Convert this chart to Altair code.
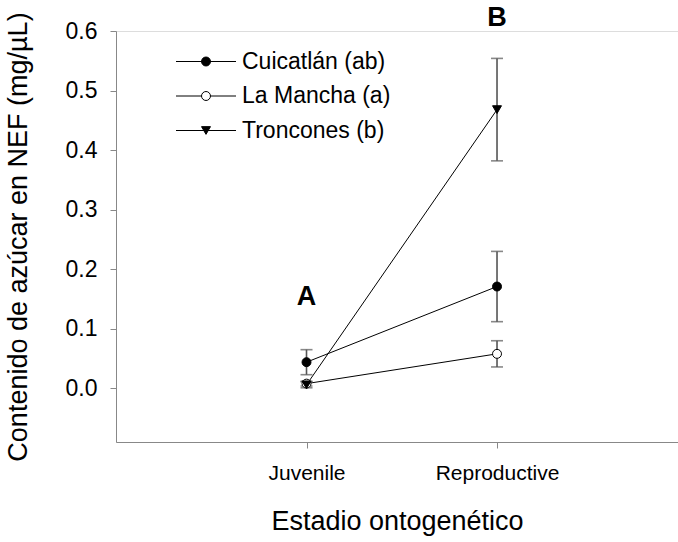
import json
import altair as alt
import pandas as pd

# ---- data ----
stages = ["Juvenile", "Reproductive"]
series = ["Cuicatlán (ab)", "La Mancha (a)", "Troncones (b)"]
cuicatlan_mean = [0.044, 0.171]
cuicatlan_err = [0.021, 0.059]
la_mancha_mean = [0.008, 0.058]
la_mancha_err = [0.004, 0.022]
troncones_mean = [0.006, 0.468]
troncones_err = [0.005, 0.086]
letters = ["A", "B"]
letter_y = [0.153, 0.622]

means = [cuicatlan_mean, la_mancha_mean, troncones_mean]
errs = [cuicatlan_err, la_mancha_err, troncones_err]

rows = []
for s, m, e in zip(series, means, errs):
    for i, st in enumerate(stages):
        rows.append({"serie": s, "stage": st, "xpos": i + 1, "mean": m[i],
                     "lo": m[i] - e[i], "hi": m[i] + e[i]})
df = pd.DataFrame(rows)
df_letters = pd.DataFrame({"xpos": [1, 2], "y": letter_y, "txt": letters})

FONT = "Liberation Sans"
label_expr = json.dumps(stages) + "[datum.value - 1]"

xscale = alt.Scale(domain=[0, 2.95], nice=False, zero=False)
yscale = alt.Scale(domain=[-0.09, 0.6], nice=False, zero=False)

X = alt.X("xpos:Q", scale=xscale,
          axis=alt.Axis(values=[1, 2], labelExpr=label_expr, title="Estadio ontogenético",
                        grid=False, tickSize=6, labelPadding=14, titlePadding=25,
                        labelFontSize=21, titleFontSize=27, labelFont=FONT, titleFont=FONT,
                        titleFontWeight="normal"))
Y = alt.Y("mean:Q", scale=yscale,
          axis=alt.Axis(values=[0, 0.1, 0.2, 0.3, 0.4, 0.5, 0.6], format=".1f",
                        title="Contenido de azúcar en NEF (mg/µL)",
                        grid=False, tickSize=6, labelPadding=13, titlePadding=33,
                        labelFontSize=23, titleFontSize=27, labelFont=FONT, titleFont=FONT,
                        titleFontWeight="normal"))

base = alt.Chart(df)

lines = base.mark_line(color="black", strokeWidth=1).encode(
    x=X, y=Y, detail="serie:N")

bars = base.mark_rule(color="#555555", strokeWidth=1.6).encode(
    x=alt.X("xpos:Q", scale=xscale), y=alt.Y("lo:Q", scale=yscale), y2="hi:Q")
cap_lo = base.mark_tick(color="#555555", thickness=1.6, size=12, orient="horizontal").encode(
    x=alt.X("xpos:Q", scale=xscale), y=alt.Y("lo:Q", scale=yscale))
cap_hi = base.mark_tick(color="#555555", thickness=1.6, size=12, orient="horizontal").encode(
    x=alt.X("xpos:Q", scale=xscale), y=alt.Y("hi:Q", scale=yscale))

fill_scale = alt.Scale(domain=series, range=["black", "white", "black"])
shape_scale = alt.Scale(domain=series, range=["circle", "circle", "triangle-down"])

points = base.mark_point(filled=True, size=80, stroke="black", strokeWidth=1, opacity=1).encode(
    x=alt.X("xpos:Q", scale=xscale), y=alt.Y("mean:Q", scale=yscale),
    fill=alt.Fill("serie:N", scale=fill_scale, legend=None),
    shape=alt.Shape("serie:N", scale=shape_scale, legend=None))

letters_layer = alt.Chart(df_letters).mark_text(
    font=FONT, fontSize=27, fontWeight="bold", color="black", baseline="middle").encode(
    x=alt.X("xpos:Q", scale=xscale), y=alt.Y("y:Q", scale=yscale), text="txt:N")

# ---- manual legend (layout in pixels of the plot area) ----
legend_layers = []
fills = ["black", "white", "black"]
shapes = ["circle", "circle", "triangle-down"]
for i, s in enumerate(series):
    d = pd.DataFrame({"serie": [s]})
    yy = 30.5 + 34.5 * i
    legend_layers.append(alt.Chart(d).mark_rule(color="black", strokeWidth=1).encode(
        x=alt.value(60), x2=alt.value(120), y=alt.value(yy)))
    legend_layers.append(alt.Chart(d).mark_point(
        filled=True, size=80, stroke="black", strokeWidth=1, fill=fills[i], shape=shapes[i],
        opacity=1).encode(x=alt.value(90), y=alt.value(yy)))
    legend_layers.append(alt.Chart(d).mark_text(
        font=FONT, fontSize=23, align="left", baseline="middle", color="black").encode(
        x=alt.value(126), y=alt.value(yy), text="serie:N"))

chart = alt.layer(lines, bars, cap_lo, cap_hi, points, letters_layer, *legend_layers).properties(
    width=562, height=411,
    autosize=alt.AutoSizeParams(type="none"),
    padding={"left": 116, "top": 31, "right": 0, "bottom": 100},
).configure_view(stroke=None).configure_axis(
    domainColor="#555555", domainWidth=1.5, tickColor="black", tickWidth=1.2,
    labelColor="black", titleColor="black"
).configure(background="white")

chart.save("out.html", embed_options={"renderer": "svg", "actions": False})
